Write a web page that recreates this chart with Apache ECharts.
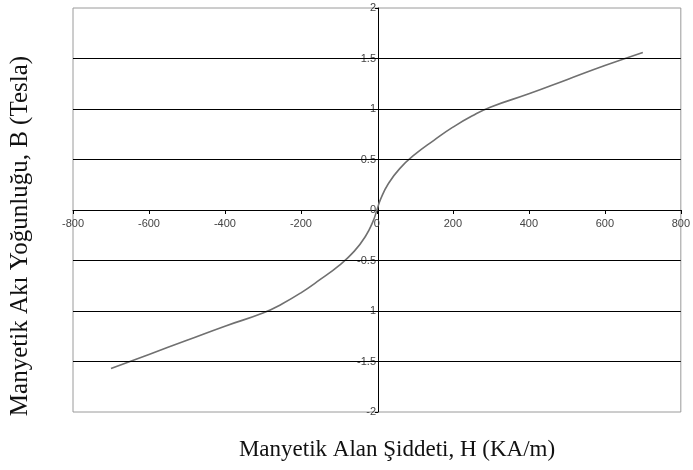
<!DOCTYPE html>
<html>
<head>
<meta charset="utf-8">
<script src="https://cdn.jsdelivr.net/npm/echarts@6/dist/echarts.min.js"></script>
<style>html,body{margin:0;padding:0;background:#fff}#c{width:693px;height:470px}</style>
</head>
<body>
<div id="c"></div>
<script>
var H = [-700,-600,-500,-400,-300,-250,-200,-150,-100,-60,-30,-10,0,10,30,60,100,150,200,250,300,400,500,600,700];
var B = [-1.57,-1.43,-1.29,-1.15,-1.02,-0.93,-0.82,-0.69,-0.55,-0.41,-0.26,-0.11,0,0.11,0.26,0.41,0.55,0.69,0.82,0.93,1.02,1.15,1.29,1.43,1.56];
var gridValues = [-1.5,-1,-0.5,0.5,1,1.5];
var xTitle = 'Manyetik Alan Şiddeti, H (KA/m)';
var yTitle = 'Manyetik Akı Yoğunluğu, B (Tesla)';

var G = {left:73,right:10,top:8,bottom:58};
var W = 693, Ht = 470;
var plotW = W - G.left - G.right, plotH = Ht - G.top - G.bottom;
var xMin=-800,xMax=800,yMin=-2,yMax=2;
// move axes (line + labels) to the zero crossing
var yOff = -plotW * (0 - xMin)/(xMax - xMin);
var xOff = -plotH * (0 - yMin)/(yMax - yMin);

var chart = echarts.init(document.getElementById('c'), null, {renderer:'canvas'});
var pts = H.map(function(h,i){return [h,B[i]];});
chart.setOption({
  animation:false,
  grid:{left:G.left,right:G.right,top:G.top,bottom:G.bottom,show:true,borderColor:'#9a9a9a',borderWidth:1,backgroundColor:'#fff'},
  xAxis:{type:'value',min:xMin,max:xMax,interval:200,position:'bottom',offset:xOff,
    axisLine:{onZero:false,lineStyle:{color:'#000',width:1}},
    axisTick:{show:true,inside:false,length:4,lineStyle:{color:'#000'}},
    axisLabel:{color:'#444',fontFamily:'Liberation Sans',fontSize:11,margin:8},
    splitLine:{show:false}},
  yAxis:{type:'value',min:yMin,max:yMax,interval:0.5,position:'left',offset:yOff,
    axisLine:{onZero:false,lineStyle:{color:'#000',width:1}},
    axisTick:{show:true,length:3,lineStyle:{color:'#000'}},
    axisLabel:{color:'#444',fontFamily:'Liberation Sans',fontSize:11,margin:2},
    splitLine:{show:false}},
  graphic:[
    {type:'text',x:397,y:450,
      style:{text:xTitle,font:'23px "Liberation Serif"',fill:'#111',textAlign:'center',textVerticalAlign:'middle'}},
    {type:'text',x:20,y:236,rotation:Math.PI/2,
      style:{text:yTitle,font:'25px "Liberation Serif"',fill:'#111',textAlign:'center',textVerticalAlign:'middle'}}
  ],
  series:[{type:'line',data:pts,smooth:true,showSymbol:false,symbol:'none',
    lineStyle:{color:'#707070',width:1.6},
    markLine:{silent:true,symbol:['none','none'],label:{show:false},
      lineStyle:{color:'#000',width:1,type:'solid'},
      data:gridValues.map(function(v){return {yAxis:v};})}
  }]
});
</script>
</body>
</html>
